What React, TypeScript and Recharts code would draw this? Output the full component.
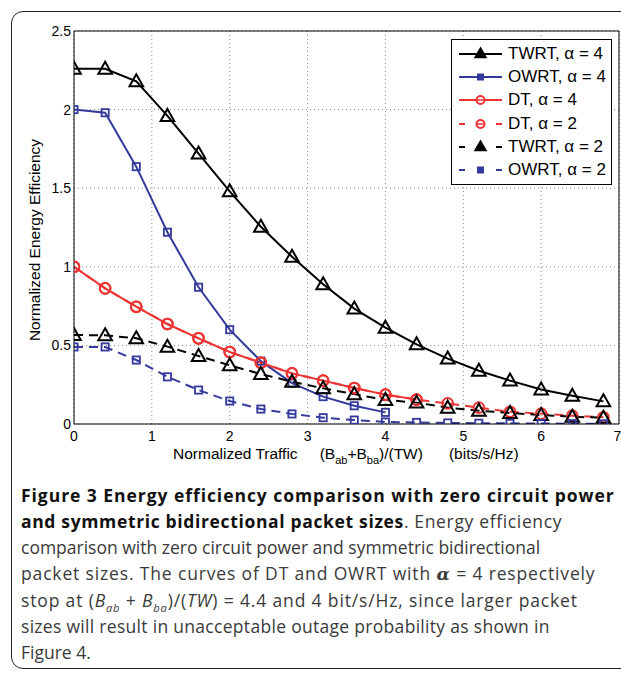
import React from "react";
import {
  LineChart, Line, XAxis, YAxis, CartesianGrid, Legend,
} from "recharts";

const xs = [0, 0.4, 0.8, 1.2, 1.6, 2.0, 2.4, 2.8, 3.2, 3.6, 4.0, 4.4, 4.8, 5.2, 5.6, 6.0, 6.4, 6.8];
const xTicks = [0, 1, 2, 3, 4, 5, 6, 7];
const yTicks = [0, 0.5, 1, 1.5, 2, 2.5];

const twrt4 = [2.26, 2.26, 2.18, 1.96, 1.72, 1.48, 1.255, 1.064, 0.889, 0.734, 0.613, 0.507, 0.416, 0.339, 0.276, 0.22, 0.18, 0.144];
const owrt4 = [2.0, 1.98, 1.637, 1.22, 0.87, 0.6, 0.4, 0.26, 0.174, 0.116, 0.074, null, null, null, null, null, null, null];
const dt4 = [1.0, 0.863, 0.746, 0.636, 0.545, 0.458, 0.39, 0.322, 0.276, 0.229, 0.187, 0.155, null, null, null, null, null, null];
const dt2 = [1.0, 0.863, 0.746, 0.636, 0.545, 0.458, 0.39, 0.322, 0.276, 0.229, 0.187, 0.155, 0.131, 0.104, 0.078, 0.066, 0.053, 0.043];
const twrt2 = [0.566, 0.564, 0.545, 0.492, 0.433, 0.373, 0.318, 0.269, 0.227, 0.19, 0.153, 0.136, 0.104, 0.085, 0.07, 0.057, 0.046, 0.04];
const owrt2 = [0.49, 0.49, 0.407, 0.3, 0.216, 0.146, 0.095, 0.064, 0.04, 0.025, 0.013, 0.01, 0.007, 0.005, 0.004, 0.003, 0.002, 0.001];

const BLUE = "#343a9c";
const RED = "#ee3333";
const DASH = "9 6";
const FONT = "'Liberation Sans', Arial, Helvetica, sans-serif";

const data = xs.map((x, i) => ({
  x,
  twrt4: twrt4[i],
  owrt4: owrt4[i],
  dt4: dt4[i],
  dt2: dt2[i],
  twrt2: twrt2[i],
  owrt2: owrt2[i],
}));

type Shape = "tri" | "sq" | "circ";

function marker(shape: Shape, cx: number, cy: number, color: string, key?: string | number) {
  if (shape === "tri")
    return (
      <path key={key} d={`M${cx},${cy - 7} L${cx + 6.8},${cy + 5} L${cx - 6.8},${cy + 5} Z`}
        fill="none" stroke={color} strokeWidth={2} strokeDasharray="none" />
    );
  if (shape === "sq")
    return (
      <rect key={key} x={cx - 3.6} y={cy - 3.6} width={7.2} height={7.2}
        fill="none" stroke={color} strokeWidth={1.8} strokeDasharray="none" />
    );
  return <circle key={key} cx={cx} cy={cy} r={5.3} fill="none" stroke={color} strokeWidth={2} strokeDasharray="none" />;
}

function makeDot(shape: Shape, color: string) {
  return (props: any) => {
    const { cx, cy, value, index } = props;
    if (value == null || cx == null || cy == null) return <g key={`e${index}`} />;
    return marker(shape, cx, cy, color, `d${index}`);
  };
}

const series = [
  { key: "twrt4", name: "TWRT, \u03b1 = 4", color: "#000", shape: "tri" as Shape, dashed: false },
  { key: "owrt4", name: "OWRT, \u03b1 = 4", color: BLUE, shape: "sq" as Shape, dashed: false },
  { key: "dt4", name: "DT, \u03b1 = 4", color: RED, shape: "circ" as Shape, dashed: false },
  { key: "dt2", name: "DT, \u03b1 = 2", color: RED, shape: "circ" as Shape, dashed: true },
  { key: "twrt2", name: "TWRT, \u03b1 = 2", color: "#000", shape: "tri" as Shape, dashed: true },
  { key: "owrt2", name: "OWRT, \u03b1 = 2", color: BLUE, shape: "sq" as Shape, dashed: true },
];

function LegendBox() {
  return (
    <div style={{
      width: 159, height: 142, border: "1.5px solid #000", background: "#fff",
      fontFamily: FONT, fontSize: 17, paddingTop: 2,
    }}>
      {series.map((s) => (
        <div key={s.key} style={{ display: "flex", alignItems: "center", height: 23.3 }}>
          <svg width={56} height={20} style={{ flex: "none" }}>
            {s.dashed ? (
              <>
                <line x1={7} y1={10} x2={13} y2={10} stroke={s.color} strokeWidth={2} />
                <line x1={44} y1={10} x2={50} y2={10} stroke={s.color} strokeWidth={2} />
              </>
            ) : (
              <line x1={7} y1={10} x2={50} y2={10} stroke={s.color} strokeWidth={2} />
            )}
            {s.shape === "tri" ? (
              <path d="M28.5,4 L34,13.5 L23,13.5 Z" fill={s.color} stroke={s.color} strokeWidth={1.5} />
            ) : s.shape === "sq" ? (
              <rect x={25.5} y={7} width={6} height={6} fill={s.color} stroke={s.color} strokeWidth={1} />
            ) : (
              <circle cx={28.5} cy={10} r={4} fill="#fff" stroke={s.color} strokeWidth={2} />
            )}
            {s.shape === "circ" && <line x1={25} y1={10} x2={32} y2={10} stroke={s.color} strokeWidth={1.5} />}
          </svg>
          <span style={{ whiteSpace: "nowrap", color: "#000" }}>{s.name}</span>
        </div>
      ))}
    </div>
  );
}

const capStyle: React.CSSProperties = {
  position: "absolute", left: 21, top: 482, fontFamily: "'Open Sans', 'Noto Sans', sans-serif",
  fontSize: 17.5, lineHeight: "26px", color: "#3a3a3a", whiteSpace: "nowrap",
};
const subS: React.CSSProperties = { fontSize: 11, lineHeight: 0 };
const axSub: React.CSSProperties = { fontSize: 11, verticalAlign: -5, lineHeight: 0 };

export default function App() {
  return (
    <div style={{ position: "absolute", left: 0, top: 0, width: 621, height: 673, overflow: "hidden", background: "#fff" }}>
      <div style={{
        position: "absolute", left: 11, top: 11, width: 720, height: 658,
        border: "1.5px solid #222", borderRadius: 12, boxSizing: "border-box",
      }} />
      <div style={{ position: "absolute", left: 0, top: 0 }}>
        <LineChart width={621} height={470} data={data} margin={{ top: 31, right: 2, bottom: 16, left: 20 }}>
          <CartesianGrid xAxisId="x" yAxisId="y" stroke="#8a8a8a" strokeDasharray="1 3" />
          <XAxis xAxisId="x" dataKey="x" type="number" domain={[0, 7]} ticks={xTicks} allowDataOverflow
            tickLine={false} tickSize={0} tickMargin={7} height={30}
            axisLine={{ stroke: "#000" }} tick={{ fontSize: 14, fill: "#000", fontFamily: FONT }} />
          <XAxis xAxisId="xb" type="number" domain={[0, 7]} ticks={xTicks} allowDataOverflow mirror
            orientation="bottom" tick={false} axisLine={false} tickSize={5} tickLine={{ stroke: "#000" }} />
          <XAxis xAxisId="xt" type="number" domain={[0, 7]} ticks={xTicks} allowDataOverflow mirror
            orientation="top" tick={false} axisLine={{ stroke: "#000" }} tickSize={5} tickLine={{ stroke: "#000" }} />
          <YAxis yAxisId="y" type="number" domain={[0, 2.5]} ticks={yTicks} allowDataOverflow
            tickLine={false} tickSize={0} tickMargin={3} width={54}
            axisLine={{ stroke: "#000" }} tick={{ fontSize: 14, fill: "#000", fontFamily: FONT }} />
          <YAxis yAxisId="yl" type="number" domain={[0, 2.5]} ticks={yTicks} allowDataOverflow mirror
            orientation="left" tick={false} axisLine={false} tickSize={5} tickLine={{ stroke: "#000" }} />
          <YAxis yAxisId="yr" type="number" domain={[0, 2.5]} ticks={yTicks} allowDataOverflow mirror
            orientation="right" tick={false} axisLine={{ stroke: "#000" }} tickSize={5} tickLine={{ stroke: "#000" }} />
          <Legend layout="vertical" align="center" verticalAlign="middle"
            wrapperStyle={{ left: 451, top: 39, width: 162, height: 145 }} content={() => <LegendBox />} />
          {series.map((s) => (
            <Line key={s.key} xAxisId="x" yAxisId="y" dataKey={s.key} name={s.name}
              type="linear" stroke={s.color} strokeWidth={2}
              strokeDasharray={s.dashed ? DASH : undefined}
              dot={makeDot(s.shape, s.color)} activeDot={false}
              isAnimationActive={false} />
          ))}
        </LineChart>
      </div>
      <div style={{
        position: "absolute", left: 35 - 150, top: 240 - 10, width: 300, height: 20, lineHeight: "20px",
        textAlign: "center", transform: "rotate(-90deg)", fontFamily: FONT, fontSize: 15.5, color: "#000",
      }}>
        Normalized Energy Efficiency
      </div>
      <div style={{
        position: "absolute", left: 173, top: 445, lineHeight: "18px",
        fontFamily: FONT, fontSize: 15.5, color: "#000", whiteSpace: "nowrap",
      }}>
        Normalized Traffic<span style={{ display: "inline-block", width: 22 }} />(B<sub style={axSub}>ab</sub>+B
        <sub style={axSub}>ba</sub>)/(TW)<span style={{ display: "inline-block", width: 26 }} />(bits/s/Hz)
      </div>
      <div style={capStyle}>
        <div><b style={{ color: "#111", letterSpacing: 0.95 }}>Figure 3 Energy efficiency comparison with zero circuit power</b></div>
        <div style={{ letterSpacing: 0.65 }}><b style={{ color: "#111" }}>and symmetric bidirectional packet sizes</b>. Energy efficiency</div>
        <div>comparison with zero circuit power and symmetric bidirectional</div>
        <div style={{ letterSpacing: 0.85 }}>packet sizes. The curves of DT and OWRT with <b><i style={{ fontFamily: "'DejaVu Serif', serif" }}>&alpha;</i></b> = 4 respectively</div>
        <div style={{ letterSpacing: 0.85 }}>stop at (<i>B<sub style={subS}>ab</sub></i> + <i>B<sub style={subS}>ba</sub></i>)/(<i>TW</i>) = 4.4 and 4 bit/s/Hz, since larger packet</div>
        <div style={{ letterSpacing: 0.3 }}>sizes will result in unacceptable outage probability as shown in</div>
        <div>Figure 4.</div>
      </div>
    </div>
  );
}
